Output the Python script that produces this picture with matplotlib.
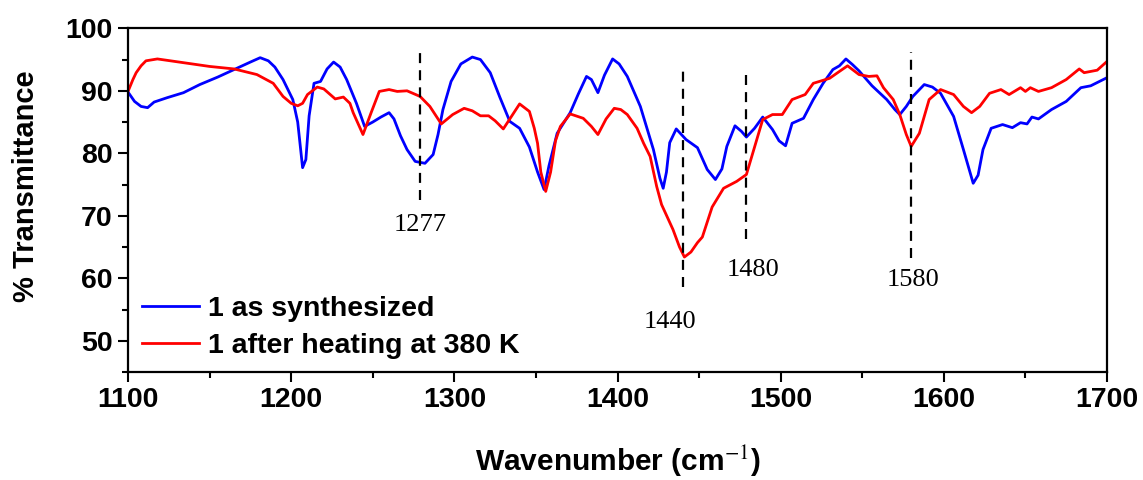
import matplotlib
matplotlib.use("Agg")
import matplotlib.pyplot as plt
from matplotlib.ticker import MultipleLocator

# ---- data ----
blue_x = [1100, 1104, 1108, 1112, 1116, 1124, 1134, 1144, 1155, 1165, 1175, 1181, 1186, 1190, 1195,
          1201, 1204, 1207, 1209, 1211, 1214, 1218, 1222, 1226, 1230, 1234, 1240, 1245, 1250, 1255,
          1260, 1263, 1267, 1271, 1276, 1282, 1287, 1290, 1293, 1298, 1304, 1311, 1316, 1322, 1328,
          1334, 1340, 1346, 1351, 1355, 1358, 1363, 1371, 1376, 1381, 1384, 1388, 1392, 1397, 1401,
          1406, 1414, 1422, 1426, 1428, 1430, 1432, 1436, 1442, 1449, 1455, 1460, 1464, 1467, 1472,
          1476, 1479, 1484, 1489, 1495, 1499, 1503, 1507, 1514, 1520, 1526, 1532, 1536, 1540, 1544,
          1548, 1556, 1565, 1570, 1573, 1577, 1581, 1588, 1593, 1598, 1606, 1612, 1618, 1621, 1624,
          1629, 1636, 1642, 1647, 1651, 1654, 1658, 1666, 1675, 1684, 1690, 1700]
blue_y = [89.8, 88.3, 87.5, 87.3, 88.2, 88.9, 89.7, 91.0, 92.2, 93.4, 94.6, 95.3, 94.8, 93.8, 91.8,
          88.6, 85.0, 77.7, 79.0, 86.0, 91.2, 91.5, 93.5, 94.6, 93.8, 91.8, 88.0, 84.3, 85.0, 85.8,
          86.5, 85.5, 82.8, 80.6, 78.7, 78.4, 79.8, 83.0, 87.0, 91.5, 94.3, 95.4, 95.0, 92.9, 88.9,
          85.1, 84.0, 81.0, 77.0, 74.2, 78.0, 83.2, 86.5, 89.5, 92.3, 91.8, 89.7, 92.5, 95.1, 94.3,
          92.3, 87.5, 80.6, 76.0, 74.4, 77.0, 81.7, 83.9, 82.2, 80.9, 77.4, 75.8, 77.5, 81.1, 84.4,
          83.5, 82.6, 84.0, 85.8, 83.8, 82.0, 81.2, 84.8, 85.6, 88.6, 91.2, 93.4, 94.0, 95.1, 94.2,
          93.2, 90.8, 88.6, 87.0, 86.2, 87.5, 89.1, 91.0, 90.6, 89.6, 85.9, 80.6, 75.2, 76.5, 80.6,
          84.0, 84.6, 84.1, 84.9, 84.7, 85.8, 85.5, 87.0, 88.3, 90.5, 90.8, 92.1]

red_x = [1100, 1103, 1105, 1108, 1111, 1118, 1134, 1150, 1165, 1179, 1189, 1195, 1200, 1204, 1207,
         1210, 1216, 1220, 1227, 1232, 1236, 1238, 1244, 1249, 1254, 1260, 1265, 1271, 1279, 1285,
         1292, 1299, 1306, 1311, 1316, 1321, 1325, 1330, 1335, 1340, 1346, 1349, 1351, 1353, 1356,
         1359, 1362, 1365, 1371, 1379, 1384, 1388, 1393, 1398, 1402, 1406, 1412, 1416, 1420, 1424,
         1427, 1434, 1438, 1441, 1445, 1449, 1452, 1455, 1458, 1465, 1473, 1479, 1484, 1489, 1495,
         1501, 1507, 1515, 1520, 1530, 1536, 1541, 1548, 1554, 1559, 1563, 1569, 1573, 1577, 1580,
         1585, 1591, 1598, 1606, 1612, 1617, 1622, 1628, 1635, 1640, 1647, 1650, 1653, 1658, 1666,
         1675, 1683, 1686, 1694, 1700]
red_y = [89.9, 91.8, 92.9, 94.0, 94.8, 95.1, 94.5, 93.9, 93.5, 92.6, 91.2, 89.1, 88.0, 87.6, 88.0,
         89.4, 90.6, 90.3, 88.7, 89.0, 88.0, 86.5, 83.0, 86.5, 89.9, 90.2, 89.9, 90.0, 89.1, 87.5,
         84.7, 86.2, 87.2, 86.8, 86.0, 86.0, 85.2, 83.9, 85.9, 87.9, 86.7, 84.0, 81.6, 77.0, 73.9,
         77.0, 82.0, 84.3, 86.3, 85.6, 84.3, 83.0, 85.5, 87.2, 87.0, 86.2, 84.0, 81.6, 79.5, 74.7,
         71.8, 67.8, 65.0, 63.4, 64.2, 65.7, 66.6, 69.0, 71.4, 74.4, 75.5, 76.6, 81.0, 85.4, 86.2,
         86.2, 88.6, 89.4, 91.2, 92.0, 93.1, 94.0, 92.6, 92.3, 92.4, 90.5, 88.6, 86.2, 83.0, 81.1,
         83.2, 88.6, 90.2, 89.4, 87.5, 86.5, 87.5, 89.6, 90.2, 89.4, 90.5, 89.9, 90.5, 89.9, 90.5,
         91.8, 93.5, 92.9, 93.3, 94.7]

series_labels = ["1 as synthesized", "1 after heating at 380 K"]

# marker lines: position, top, bottom, label text, label x, label y
mark_pos = [1279, 1440, 1479, 1580]
mark_top = [96.2, 93.4, 93.7, 96.2]
mark_bottom = [72.6, 58.6, 66.3, 63.3]
mark_text = ["1277", "1440", "1480", "1580"]
mark_text_x = [1279, 1432, 1483, 1581]
mark_text_y = [68.6, 53.0, 61.4, 59.8]

# ---- figure ----
plt.rcParams['mathtext.fontset'] = 'stix'
fig = plt.figure(figsize=(11.43, 4.8), dpi=100)
ax = fig.add_axes([0.112, 0.225, 0.8565, 0.716])

ax.plot(blue_x, blue_y, color='#0000FF', lw=2.0, label=series_labels[0], solid_joinstyle='round')
ax.plot(red_x, red_y, color='#FF0000', lw=2.0, label=series_labels[1], solid_joinstyle='round')

for p, t, b in zip(mark_pos, mark_top, mark_bottom):
    ax.plot([p, p], [b, t], color='black', lw=1.6, ls=(0, (4.5, 3.2)))
for tx, x, y in zip(mark_text, mark_text_x, mark_text_y):
    ax.text(x, y, tx, ha='center', va='center', fontsize=19, family='Liberation Serif')

ax.set_xlim(1100, 1700)
ax.set_ylim(45, 100)
ax.xaxis.set_major_locator(MultipleLocator(100))
ax.xaxis.set_minor_locator(MultipleLocator(50))
ax.yaxis.set_major_locator(MultipleLocator(10))
ax.yaxis.set_minor_locator(MultipleLocator(5))
ax.set_yticks([50, 60, 70, 80, 90, 100])

ax.tick_params(which='major', direction='out', length=7, width=1.5, labelsize=20.5, pad=4)
ax.tick_params(which='minor', direction='out', length=4.5, width=1.5)
for lab in ax.get_xticklabels() + ax.get_yticklabels():
    lab.set_fontweight('bold')
    lab.set_family('Liberation Sans')
for s in ax.spines.values():
    s.set_linewidth(1.6)

ax.set_ylabel('% Transmittance', fontsize=21, fontweight='bold', family='Liberation Sans')
ax.yaxis.set_label_coords(-0.090, 0.54)
ax.set_xlabel(r'Wavenumber (cm$^{-1}$)', fontsize=21.5, fontweight='bold', family='Liberation Sans', va='top')
ax.xaxis.set_label_coords(0.5, -0.21)

leg = ax.legend(loc='upper left', bbox_to_anchor=(0.0143, 0.222), frameon=False,
                prop={'family': 'Liberation Sans', 'weight': 'bold', 'size': 20.5},
                handlelength=2.0, handletextpad=0.3, labelspacing=0.4, borderpad=0, borderaxespad=0)

fig.savefig('out.png', dpi=100)
